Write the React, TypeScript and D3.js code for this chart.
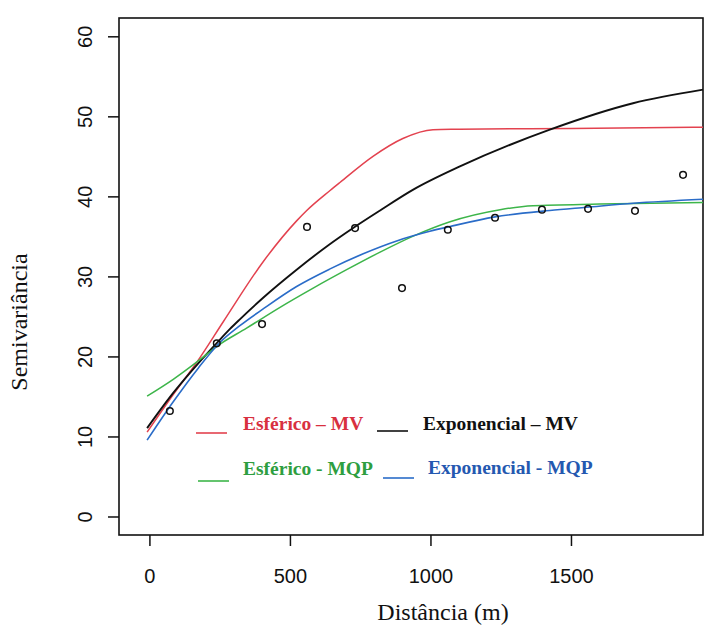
import React, { useEffect, useRef } from 'react';
import * as d3 from 'd3';

// pontos experimentais (distância m, semivariância)
const pontos: [number, number][] = [
	[71, 13.25], [238, 21.7], [399, 24.1], [559, 36.25], [730, 36.1], [897, 28.6],
	[1060, 35.9], [1228, 37.4], [1395, 38.4], [1559, 38.5], [1726, 38.25], [1897, 42.75],
];

// curvas ajustadas
const esfericoMV: [number, number][] = [
	[-10, 10.6], [83, 15.3], [172, 19.6], [261, 24.4], [403, 31.9], [522, 37.0], [558, 38.3],
	[641, 40.8], [676, 41.8], [795, 45.1], [900, 47.3], [1007, 48.4], [1100, 48.45], [1500, 48.55], [1968, 48.7],
];
const exponencialMV: [number, number][] = [
	[-10, 11.1], [83, 15.5], [172, 19.2], [237, 21.7], [285, 23.5], [320, 24.7], [403, 27.4],
	[522, 30.9], [629, 33.8], [727, 36.2], [819, 38.3], [937, 40.9], [1103, 43.8], [1423, 48.4],
	[1719, 51.7], [1968, 53.4],
];
const esfericoMQP: [number, number][] = [
	[-10, 15.1], [83, 17.2], [172, 19.5], [237, 21.3], [344, 23.6], [463, 26.2], [581, 28.6],
	[700, 30.9], [819, 33.1], [937, 35.1], [1068, 36.9], [1246, 38.4], [1363, 38.9],
	[1600, 39.1], [1968, 39.3],
];
const exponencialMQP: [number, number][] = [
	[-10, 9.6], [83, 14.4], [172, 18.6], [249, 21.8], [320, 23.9], [403, 26.0], [522, 28.8],
	[641, 31.0], [759, 32.9], [878, 34.5], [996, 35.7], [1068, 36.3], [1228, 37.5], [1423, 38.3],
	[1554, 38.7], [1720, 39.2], [1968, 39.7],
];

const xTicks = [0, 500, 1000, 1500];
const yTicks = [0, 10, 20, 30, 40, 50, 60];

const series = [
	{ nome: 'Esférico – MV', dados: esfericoMV, cor: '#e3424f', texto: '#d8303f', w: 1.5 },
	{ nome: 'Exponencial – MV', dados: exponencialMV, cor: '#111', texto: '#111', w: 1.9 },
	{ nome: 'Esférico - MQP', dados: esfericoMQP, cor: '#3db54a', texto: '#2e9e40', w: 1.5 },
	{ nome: 'Exponencial - MQP', dados: exponencialMQP, cor: '#2a6cc8', texto: '#2458b0', w: 1.6 },
];

const W = 710;
const H = 626;

export default function App() {
	const ref = useRef<SVGSVGElement>(null);

	useEffect(() => {
		const svg = d3.select(ref.current);
		svg.selectAll('*').remove();

		const x = d3.scaleLinear().domain([-110, 1968]).range([119, 703]);
		const y = d3.scaleLinear().domain([-2.25, 62.35]).range([535, 18]);

		svg.append('rect').attr('width', W).attr('height', H).attr('fill', '#fff');

		// moldura
		svg.append('rect')
			.attr('x', x.range()[0]).attr('y', y.range()[1])
			.attr('width', x.range()[1] - x.range()[0]).attr('height', y.range()[0] - y.range()[1])
			.attr('fill', 'none').attr('stroke', '#111').attr('stroke-width', 1.6);

		const axisFont = 'Liberation Sans, Arial, sans-serif';

		// eixo y
		const gy = svg.append('g');
		yTicks.forEach(t => {
			gy.append('line').attr('x1', 108).attr('x2', 119).attr('y1', y(t)).attr('y2', y(t))
				.attr('stroke', '#111').attr('stroke-width', 1.5);
			gy.append('text')
				.attr('transform', `translate(92, ${y(t)}) rotate(-90)`)
				.attr('text-anchor', 'middle')
				.attr('font-family', axisFont).attr('font-size', 20).attr('fill', '#111')
				.text(t);
		});

		// eixo x
		const gx = svg.append('g');
		xTicks.forEach(t => {
			gx.append('line').attr('x1', x(t)).attr('x2', x(t)).attr('y1', 535).attr('y2', 546)
				.attr('stroke', '#111').attr('stroke-width', 1.5);
			gx.append('text')
				.attr('x', x(t)).attr('y', 583)
				.attr('text-anchor', 'middle')
				.attr('font-family', axisFont).attr('font-size', 20).attr('fill', '#111')
				.text(t);
		});

		svg.append('text').attr('x', 443).attr('y', 620).attr('text-anchor', 'middle')
			.attr('font-family', 'Liberation Serif, Times New Roman, serif').attr('font-size', 24)
			.attr('fill', '#111').text('Distância (m)');
		svg.append('text').attr('transform', 'translate(27, 322) rotate(-90)').attr('text-anchor', 'middle')
			.attr('font-family', 'Liberation Serif, Times New Roman, serif').attr('font-size', 24)
			.attr('fill', '#111').text('Semivariância');

		// curvas
		const line = d3.line<[number, number]>().x(d => x(d[0])).y(d => y(d[1])).curve(d3.curveMonotoneX);
		series.forEach(s => {
			svg.append('path').attr('d', line(s.dados)).attr('fill', 'none')
				.attr('stroke', s.cor).attr('stroke-width', s.w);
		});

		// pontos
		svg.append('g').selectAll('circle').data(pontos).join('circle')
			.attr('cx', d => x(d[0])).attr('cy', d => y(d[1])).attr('r', 3.3)
			.attr('fill', 'none').attr('stroke', '#111').attr('stroke-width', 1.5);

		// legenda
		const leg = [
			{ s: series[0], lx: 196, ly: 433, tx: 243, ty: 430 },
			{ s: series[1], lx: 377, ly: 431, tx: 423, ty: 430 },
			{ s: series[2], lx: 198, ly: 481, tx: 243, ty: 475 },
			{ s: series[3], lx: 383, ly: 478, tx: 428, ty: 474 },
		];
		leg.forEach(l => {
			svg.append('line').attr('x1', l.lx).attr('x2', l.lx + 31).attr('y1', l.ly).attr('y2', l.ly)
				.attr('stroke', l.s.cor).attr('stroke-width', 1.6);
			svg.append('text').attr('x', l.tx).attr('y', l.ty)
				.attr('font-family', 'Liberation Serif, Times New Roman, serif').attr('font-weight', 'bold')
				.attr('font-size', 19.5).attr('fill', l.s.texto).text(l.s.nome);
		});
	}, []);

	return (
		<svg ref={ref} width={W} height={H} style={{ position: 'absolute', left: 0, top: 0 }}></svg>
	);
}
